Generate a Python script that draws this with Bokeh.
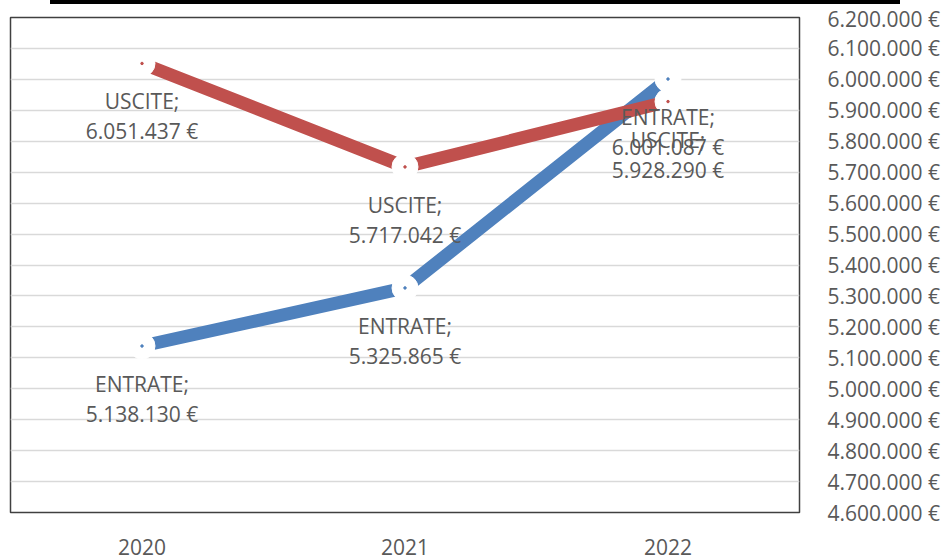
from bokeh.plotting import figure
from bokeh.models import FactorRange, Range1d, FixedTicker, ColumnDataSource, Div
from bokeh.layouts import column
from bokeh.core.properties import value
from bokeh.embed import file_html
from bokeh.resources import INLINE

years = ["2020", "2021", "2022"]
entrate = [5138130, 5325865, 6001087]
uscite = [6051437, 5717042, 5928290]
series_names = ["ENTRATE;", "USCITE;"]
tick_values = [4600000, 4700000, 4800000, 4900000, 5000000, 5100000, 5200000, 5300000,
               5400000, 5500000, 5600000, 5700000, 5800000, 5900000, 6000000, 6100000, 6200000]

def euro(v):
    return "{:,}".format(v).replace(",", ".") + " €"

tick_labels = {t: euro(t) for t in tick_values}

FONT = "Open Sans"
GRAY = "#595959"
BLUE = "#4F81BD"
RED = "#C0504D"
FS = "21px"

p = figure(width=943, height=555, x_range=FactorRange(factors=years, range_padding=0),
           y_range=Range1d(4600000, 6200000), output_backend="svg", toolbar_location=None,
           y_axis_location="right", min_border_left=10, min_border_top=13,
           min_border_right=143, min_border_bottom=47)
p.background_fill_color = "white"
p.border_fill_color = "white"
p.outline_line_color = "#404040"
p.outline_line_width = 1.5

p.xgrid.visible = False
p.ygrid.grid_line_color = "#d9d9d9"
p.ygrid.grid_line_width = 1.5
p.yaxis.ticker = FixedTicker(ticks=tick_values)
p.yaxis.major_label_overrides = tick_labels
for ax in (p.xaxis[0], p.yaxis[0]):
    ax.axis_line_color = None
    ax.major_tick_line_color = None
    ax.minor_tick_line_color = None
    ax.major_label_text_font = FONT
    ax.major_label_text_font_size = FS
    ax.major_label_text_color = GRAY
p.yaxis.major_label_standoff = 22
p.xaxis.major_label_standoff = 20

src_e = ColumnDataSource(dict(x=years, y=entrate, name=[series_names[0]] * 3, lab=[euro(v) for v in entrate]))
src_u = ColumnDataSource(dict(x=years, y=uscite, name=[series_names[1]] * 3, lab=[euro(v) for v in uscite]))

p.line("x", "y", source=src_e, line_width=13, line_color=BLUE, line_join="round")
p.line("x", "y", source=src_u, line_width=13, line_color=RED, line_join="round")
for src, col in ((src_e, BLUE), (src_u, RED)):
    p.scatter("x", "y", source=src, size=26, fill_color="white", line_color="white")
    p.scatter("x", "y", source=src, size=2.5, fill_color=col, line_color=col)
for src in (src_e, src_u):
    p.text("x", "y", text="name", source=src, y_offset=38, text_align="center", text_baseline="middle",
           text_font=value(FONT), text_font_size=FS, text_color=GRAY)
    p.text("x", "y", text="lab", source=src, y_offset=68, text_align="center", text_baseline="middle",
           text_font=value(FONT), text_font_size=FS, text_color=GRAY)

bar = Div(text="", width=850, height=4, margin=(0, 0, 0, 50), styles={"background-color": "black"})
layout = column(bar, p, spacing=0)

open("out.html", "w").write(file_html(layout, INLINE))
